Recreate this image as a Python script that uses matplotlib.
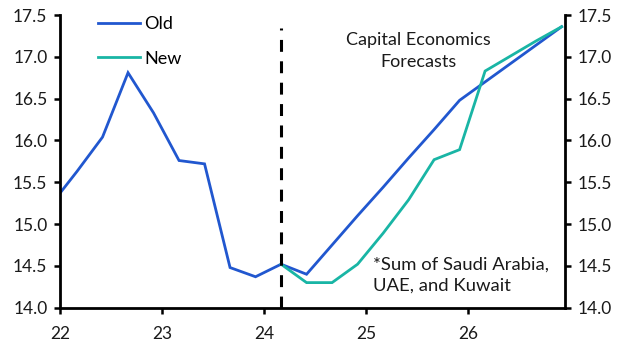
import matplotlib

matplotlib.use("Agg")

import matplotlib.pyplot as plt  # noqa: E402

plt.rcParams["font.family"] = ["Lato", "DejaVu Sans"]

# quarterly data, plotted at the middle month of each quarter (year - 2000)
quarters = [21.917, 22.167, 22.417, 22.667, 22.917, 23.167, 23.417, 23.667,
            23.917, 24.167, 24.417, 24.667, 24.917, 25.167, 25.417, 25.667,
            25.917, 26.167, 26.417, 26.667, 26.917]
old = [15.24, 15.63, 16.04, 16.81, 16.33, 15.76, 15.72, 14.48,
       14.37, 14.52, 14.40, 14.75, 15.10, 15.44, 15.79, 16.13,
       16.48, 16.70, 16.92, 17.14, 17.36]
new_x = [24.167, 24.417, 24.667, 24.917, 25.167, 25.417, 25.667, 25.917,
         26.167, 26.417, 26.667, 26.917]
new = [14.52, 14.30, 14.30, 14.52, 14.89, 15.29, 15.77, 15.89,
       16.83, 17.01, 17.19, 17.36]
forecast_start = 24.167

yticks = [14.0, 14.5, 15.0, 15.5, 16.0, 16.5, 17.0, 17.5]
xticks = [22, 23, 24, 25, 26]
xtick_labels = ["22", "23", "24", "25", "26"]

OLD_COLOR = "#2157cf"
NEW_COLOR = "#19b5a5"
TEXT_COLOR = "#1a1a1a"

fig = plt.figure(figsize=(6.3, 3.54), dpi=100)
ax = fig.add_axes([0.0952, 0.1308, 0.8016, 0.8268])

ax.plot(quarters, old, color=OLD_COLOR, linewidth=2.0, label="Old",
        solid_joinstyle="miter")
ax.plot(new_x, new, color=NEW_COLOR, linewidth=2.0, label="New",
        solid_joinstyle="miter")
ax.axvline(forecast_start, ymin=0, ymax=0.955, color="black", linewidth=2.2,
           linestyle=(0, (3.9, 3.1)))

ax.set_xlim(22, 26.95)
ax.set_ylim(14.0, 17.5)
ax.set_yticks(yticks)
ax.set_yticklabels([f"{v:.1f}" for v in yticks])
ax.set_xticks(xticks)
ax.set_xticklabels(xtick_labels)

for side in ["left", "right", "bottom"]:
    ax.spines[side].set_linewidth(2.0)
    ax.spines[side].set_color("black")
ax.spines["top"].set_visible(False)

ax.tick_params(axis="y", which="both", direction="out", length=4, width=1.8,
               labelsize=12.5, pad=5, left=True, right=True, labelright=True,
               colors="black", labelcolor=TEXT_COLOR)
ax.tick_params(axis="x", direction="out", length=4, width=1.8, labelsize=12.5,
               pad=9, labelcolor=TEXT_COLOR)

ax.text(25.51, 17.07, "Capital Economics\nForecasts", ha="center",
        va="center", fontsize=13, linespacing=1.45, color=TEXT_COLOR)
ax.text(25.07, 14.39, "*Sum of Saudi Arabia,\nUAE, and Kuwait", ha="left",
        va="center", fontsize=13.3, linespacing=1.45, color=TEXT_COLOR)

ax.legend(loc="upper left", bbox_to_anchor=(0.076, 0.995), frameon=False,
          fontsize=13, handlelength=2.3, handletextpad=0.25,
          labelspacing=1.0, borderaxespad=0, borderpad=0)

fig.savefig("out.png", dpi=100)
plt.close(fig)
